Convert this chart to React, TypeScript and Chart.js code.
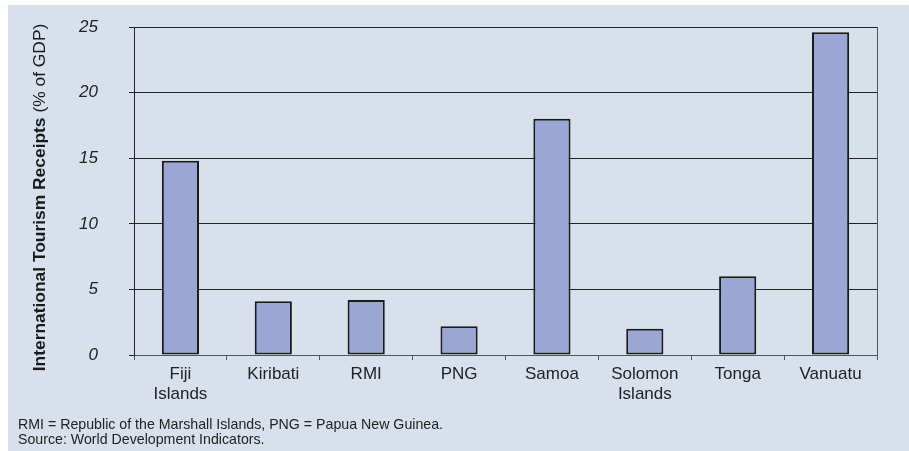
import React, { useEffect, useRef } from "react";
import { Chart, registerables } from "chart.js";

Chart.register(...registerables);

const categories: (string | string[])[] = [
  ["Fiji", "Islands"],
  "Kiribati",
  "RMI",
  "PNG",
  "Samoa",
  ["Solomon", "Islands"],
  "Tonga",
  "Vanuatu",
];
const receipts = [14.8, 4.1, 4.2, 2.2, 18.0, 2.0, 6.0, 24.6];
const yTicks = [0, 5, 10, 15, 20, 25];
const yTitleBold = "International Tourism Receipts";
const yTitleNormal = " (% of GDP)";
const notes = [
  "RMI = Republic of the Marshall Islands, PNG = Papua New Guinea.",
  "Source: World Development Indicators.",
];

const FONT = '"Liberation Sans", Arial, Helvetica, sans-serif';
const BG = "#d8e0ec";

const decor = {
  id: "decor",
  afterDraw(chart: any) {
    const { ctx, chartArea } = chart;
    ctx.save();
    // right border of plot area
    const rx = Math.round(chartArea.right) + 0.5;
    ctx.strokeStyle = "#555";
    ctx.lineWidth = 1;
    ctx.beginPath();
    ctx.moveTo(rx, chartArea.top);
    ctx.lineTo(rx, chartArea.bottom);
    ctx.stroke();

    // y-axis title, bold + normal parts
    ctx.save();
    ctx.translate(32, (chartArea.top + chartArea.bottom) / 2 + 6.5);
    ctx.rotate(-Math.PI / 2);
    ctx.textBaseline = "middle";
    ctx.textAlign = "left";
    ctx.fillStyle = "#1a1a1a";
    const fb = `bold 17.4px ${FONT}`;
    const fn = `17.4px ${FONT}`;
    ctx.font = fb;
    const w1 = ctx.measureText(yTitleBold).width;
    ctx.font = fn;
    const w2 = ctx.measureText(yTitleNormal).width;
    const x0 = -(w1 + w2) / 2;
    ctx.font = fb;
    ctx.fillText(yTitleBold, x0, 0);
    ctx.font = fn;
    ctx.fillText(yTitleNormal, x0 + w1, 0);
    ctx.restore();

    // notes
    ctx.font = `14.2px ${FONT}`;
    ctx.fillStyle = "#222";
    ctx.textBaseline = "middle";
    ctx.textAlign = "left";
    notes.forEach((t, i) => ctx.fillText(t, 10, 420.5 + i * 15));
    ctx.restore();
  },
};

export default function App() {
  const ref = useRef<HTMLCanvasElement>(null);

  useEffect(() => {
    if (!ref.current) return;
    const chart = new Chart(ref.current, {
      type: "bar",
      data: {
        labels: categories,
        datasets: [
          {
            data: receipts,
            backgroundColor: "#9aa6d4",
            borderColor: "#1a1a1a",
            borderWidth: 2,
            borderSkipped: false,
            categoryPercentage: 0.8,
            barPercentage: 0.5,
          },
        ],
      },
      options: {
        responsive: false,
        animation: false,
        layout: { padding: { top: 22, right: 32, left: 0, bottom: 0 } },
        plugins: {
          legend: { display: false },
          tooltip: { enabled: false },
          title: { display: false },
        },
        scales: {
          x: {
            grid: {
              offset: true,
              drawOnChartArea: false,
              drawTicks: true,
              tickLength: 5,
              color: "#555",
            },
            border: { color: "#555", width: 1 },
            ticks: {
              color: "#222",
              font: { family: FONT, size: 17, lineHeight: 1.15 },
              padding: 5,
              maxRotation: 0,
              autoSkip: false,
            },
            afterFit: (s: any) => {
              s.height = 96;
            },
          },
          y: {
            min: 0,
            max: 25,
            afterBuildTicks: (s: any) => {
              s.ticks = yTicks.map((v) => ({ value: v }));
            },
            ticks: {
              color: "#222",
              font: { family: FONT, size: 17, style: "italic" },
              padding: 31,
            },
            grid: { color: "#222", tickLength: 5, lineWidth: 1 },
            border: { color: "#222", width: 1 },
            afterFit: (s: any) => {
              s.width = 126;
              s.paddingTop = 0;
              s.paddingBottom = 0;
            },
          },
        },
      },
      plugins: [decor],
    });
    return () => chart.destroy();
  }, []);

  return (
    <div
      style={{
        position: "fixed",
        left: 8,
        top: 5,
        width: 901,
        height: 446,
        background: BG,
      }}
    >
      <canvas ref={ref} width={901} height={446} style={{ display: "block" }} />
    </div>
  );
}
